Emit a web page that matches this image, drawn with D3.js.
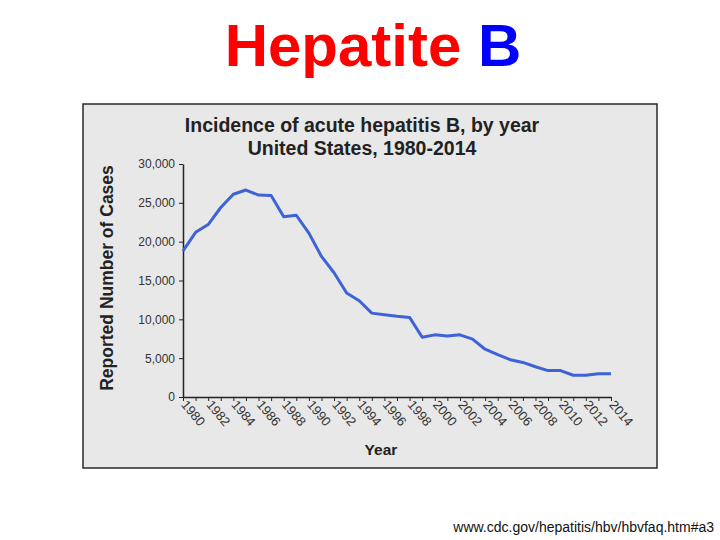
<!DOCTYPE html>
<html>
<head>
<meta charset="utf-8">
<script src="https://cdn.jsdelivr.net/npm/d3@7"></script>
<style>
  body { margin: 0; background: #fff; }
  svg { display: block; font-family: "Liberation Sans", Arial, sans-serif; }
</style>
</head>
<body>
<svg id="chart" width="720" height="540"></svg>
<script>
const years = d3.range(1980, 2015);
const cases = [
  18800, 21200, 22200, 24400, 26100, 26650, 26000, 25950, 23200, 23400,
  21100, 18100, 16000, 13400, 12400, 10800, 10600, 10400, 10250, 7700,
  8000, 7850, 8000, 7450, 6150, 5450, 4800, 4450, 3900, 3400,
  3400, 2800, 2800, 2980, 2980
];
const yTicks = [0, 5000, 10000, 15000, 20000, 25000, 30000];
const xLabels = d3.range(1980, 2015, 2);

const svg = d3.select("#chart");

// titolo principale
const head = svg.append("text")
    .attr("x", 373)
    .attr("y", 66)
    .attr("text-anchor", "middle")
    .style("font-size", "60px")
    .style("font-weight", "bold");
head.append("tspan").attr("fill", "#ff0000").text("Hepatite ");
head.append("tspan").attr("fill", "#0000ff").text("B");

// riquadro del grafico
svg.append("rect")
    .attr("x", 83)
    .attr("y", 104)
    .attr("width", 574)
    .attr("height", 364)
    .attr("fill", "#e8e8e8")
    .attr("stroke", "#2a2a2a")
    .attr("stroke-width", 1.5);

svg.append("text")
    .attr("x", 362)
    .attr("y", 132)
    .attr("text-anchor", "middle")
    .attr("fill", "#222")
    .style("font-size", "19.5px")
    .style("font-weight", "bold")
    .text("Incidence of acute hepatitis B, by year");

svg.append("text")
    .attr("x", 362)
    .attr("y", 155)
    .attr("text-anchor", "middle")
    .attr("fill", "#222")
    .style("font-size", "19.5px")
    .style("font-weight", "bold")
    .text("United States, 1980-2014");

const x = d3.scaleLinear().domain([1980, 2014]).range([183, 611]);
const y = d3.scaleLinear().domain([0, 30000]).range([397, 164]);

// asse y
const yAxis = svg.append("g")
    .attr("transform", "translate(183,0)")
    .call(d3.axisLeft(y).tickValues(yTicks).tickSize(4).tickSizeOuter(0)
        .tickFormat(d3.format(",")));
yAxis.select(".domain").attr("stroke", "#222").attr("stroke-width", 1.5);
yAxis.selectAll(".tick line").attr("stroke", "#222");
yAxis.selectAll(".tick text")
    .attr("fill", "#333")
    .attr("x", -8)
    .style("font-size", "12px")
    .style("font-family", "'Liberation Sans', Arial, sans-serif");

// asse x
const xAxis = svg.append("g")
    .attr("transform", "translate(0,397)")
    .call(d3.axisBottom(x).tickValues(years).tickSize(4).tickSizeOuter(0)
        .tickFormat(d => xLabels.includes(d) ? d : ""));
xAxis.select(".domain").attr("stroke", "#222").attr("stroke-width", 1.5);
xAxis.selectAll(".tick line").attr("stroke", "#222");
xAxis.selectAll(".tick text")
    .attr("fill", "#333")
    .attr("text-anchor", "start")
    .attr("dy", null)
    .attr("y", 0)
    .attr("transform", "translate(-3,8) rotate(50)")
    .style("font-size", "13px")
    .style("font-family", "'Liberation Sans', Arial, sans-serif");

// etichette assi
svg.append("text")
    .attr("transform", "translate(113,278) rotate(-90)")
    .attr("text-anchor", "middle")
    .attr("fill", "#222")
    .style("font-size", "17.5px")
    .style("font-weight", "bold")
    .text("Reported Number of Cases");

svg.append("text")
    .attr("x", 381)
    .attr("y", 455)
    .attr("text-anchor", "middle")
    .attr("fill", "#222")
    .style("font-size", "15.5px")
    .style("font-weight", "bold")
    .text("Year");

// linea dei casi
const line = d3.line()
    .x((d, i) => x(years[i]))
    .y(d => y(d));

svg.append("path")
    .datum(cases)
    .attr("fill", "none")
    .attr("stroke", "#3d63d6")
    .attr("stroke-width", 3)
    .attr("stroke-linejoin", "round")
    .attr("d", line);

// fonte
svg.append("text")
    .attr("x", 714)
    .attr("y", 532)
    .attr("text-anchor", "end")
    .attr("fill", "#111")
    .style("font-size", "14px")
    .text("www.cdc.gov/hepatitis/hbv/hbvfaq.htm#a3");
</script>
</body>
</html>
